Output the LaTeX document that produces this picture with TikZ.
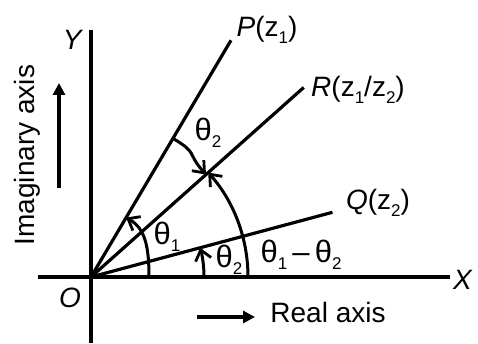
\documentclass[tikz,border=0pt]{standalone}
\usepackage{fontspec}
\setmainfont{Liberation Sans}
\usetikzlibrary{arrows.meta,calc}
\newcommand\lsb[1]{\raisebox{-0.45ex}{\fontsize{17}{17}\selectfont #1}}
\begin{document}
\begin{tikzpicture}[x=1pt,y=1pt,
  ln/.style={line width=3.2pt},
  arcln/.style={line width=3pt,-{Straight Barb[length=10pt,width=16pt,line width=2.8pt]}},
  axarrow/.style={line width=3.2pt,-{Triangle[length=12pt,width=12pt]}},
  lbl/.style={inner sep=0pt,font=\fontsize{28}{30}\selectfont},
  glbl/.style={inner sep=0pt,font=\fontsize{31}{33}\selectfont}]
\useasboundingbox (0,0) rectangle (478,343);
\coordinate (O) at (91,66);
% axes
\coordinate (ytop) at (91,313);
\coordinate (ybot) at (91,0);
\coordinate (xl) at (38,66);
\coordinate (xr) at (450,66);
\draw[ln] (ybot) -- (ytop);
\draw[ln] (xl) -- (xr);
% rays
\coordinate (Pe) at ($(O)+(59.4:275)$);
\coordinate (Re) at ($(O)+(41.7:285)$);
\coordinate (Qe) at ($(O)+(15:250)$);
\draw[ln] (O) -- (Pe);
\draw[ln] (O) -- (Re);
\draw[ln] (O) -- (Qe);
% arcs
\coordinate (a1s) at ($(O)+(0:58)$);
\coordinate (a1e) at ($(O)+(59.4:69)$);
\draw[arcln] (a1s) .. controls ($(a1s)+(0,30)$) and ($(a1e)+(-29.4:22)$) .. (a1e);
\draw[arcln] ($(O)+(0:113)$) arc[start angle=0,end angle=15,radius=113];
\draw[arcln] ($(O)+(0:157)$) arc[start angle=0,end angle=41.7,radius=157];
\coordinate (a4s) at ($(O)+(59.4:161)$);
\coordinate (a4e) at ($(O)+(41.7:154)$);
\draw[arcln] (a4s) .. controls ($(a4s)+(-30.6:30)$) and ($(a4e)+(131.7:30)$) .. (a4e);
% axis arrows
\coordinate (ua1) at (59,155);
\coordinate (ua2) at (59,260);
\draw[axarrow] (ua1) -- (ua2);
\coordinate (ra1) at (197,26);
\coordinate (ra2) at (255,26);
\draw[axarrow] (ra1) -- (ra2);
% labels
\node[lbl] (Y) at (73,303) {\textit{Y}};
\node[lbl] (Ol) at (70,45) {\textit{O}};
\node[lbl] (X) at (463,63) {\textit{X}};
\node[lbl] (P) at (267,313) {\textit{P}(z\lsb{1})};
\node[lbl] (R) at (358,253) {\textit{R}(z\lsb{1}/z\lsb{2})};
\node[lbl] (Q) at (378,140) {\textit{Q}(z\lsb{2})};
\node[glbl] (t2a) at (208,210) {θ\lsb{2}};
\node[glbl] (t1) at (167,106) {θ\lsb{1}};
\node[glbl] (t2b) at (229,83) {θ\lsb{2}};
\node[glbl] (t12) at (301,88) {θ\lsb{1}\,–\,θ\lsb{2}};
\node[lbl,rotate=90] (im) at (27,188) {Imaginary axis};
\node[lbl] (re) at (328,31) {Real axis};
\end{tikzpicture}
\end{document}
